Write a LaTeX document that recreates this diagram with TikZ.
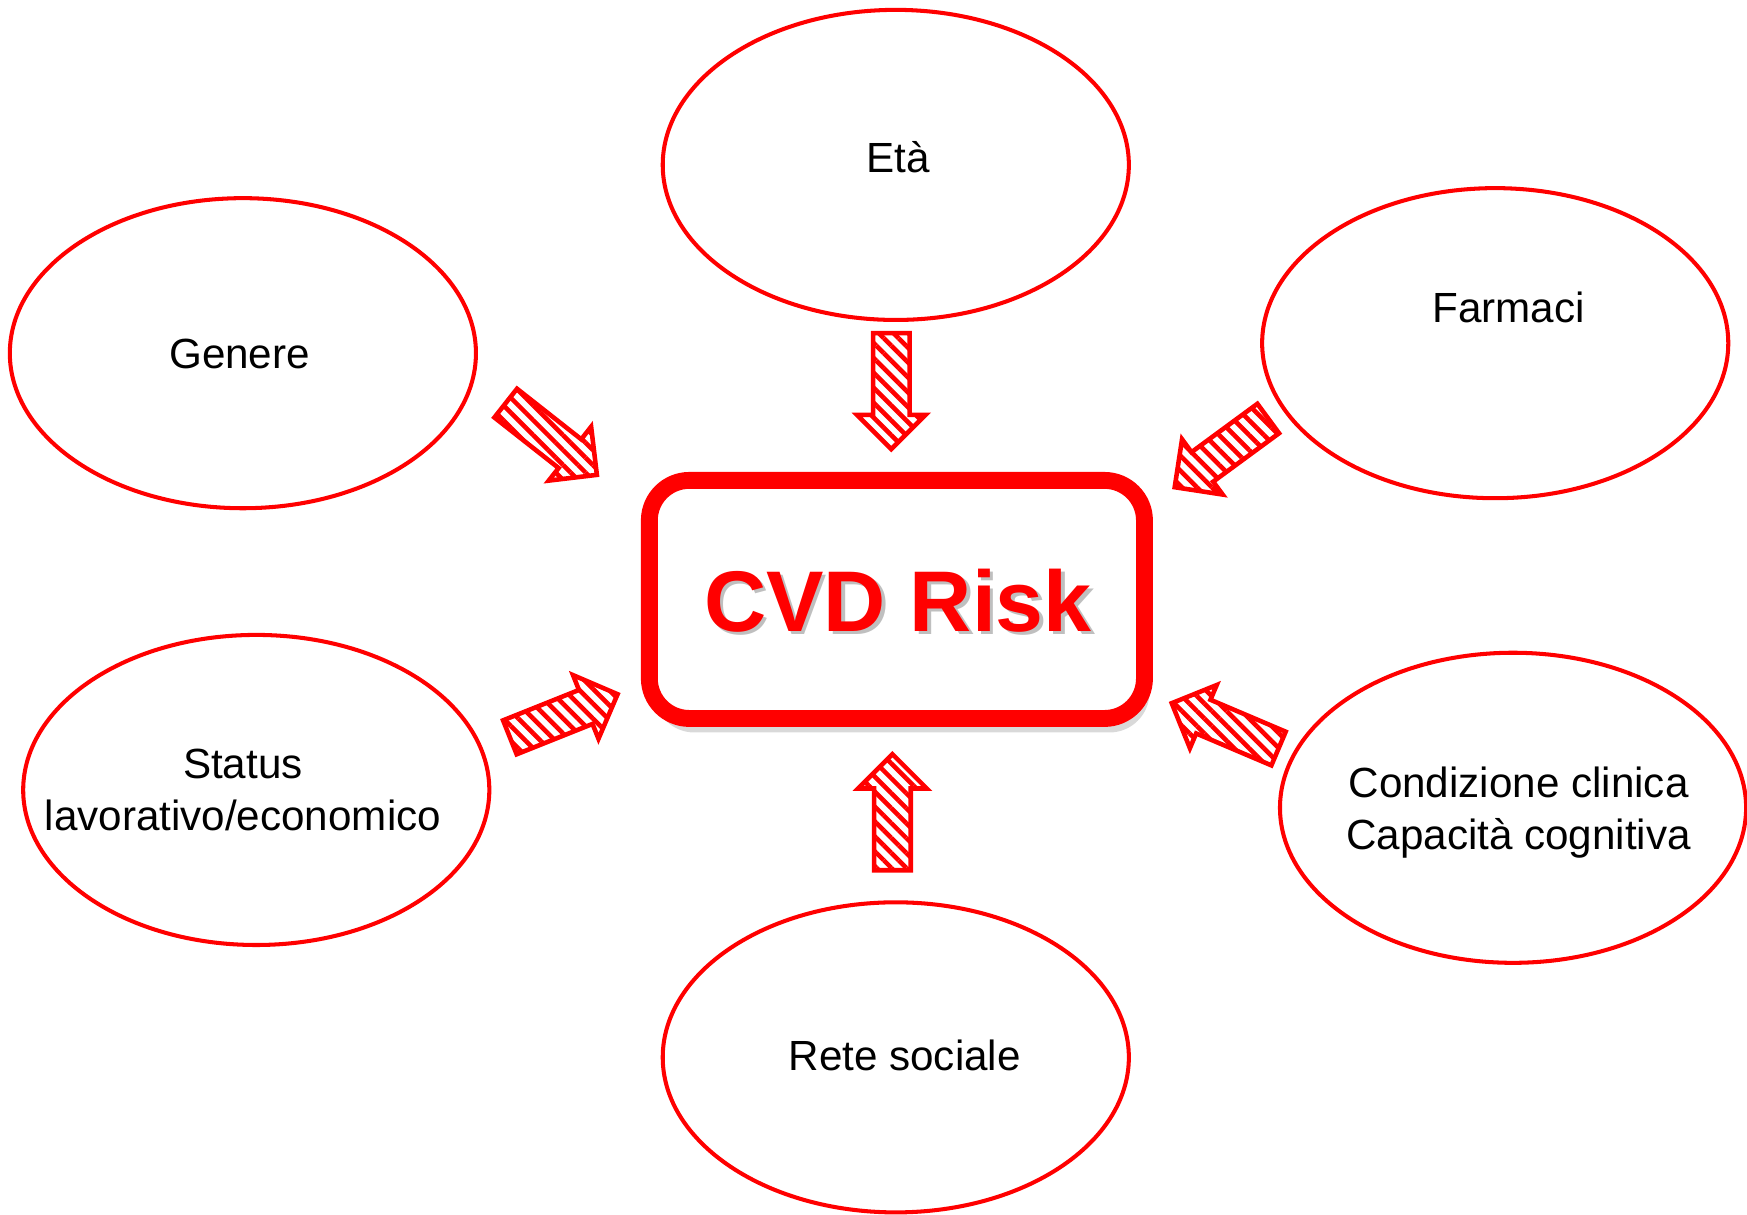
\documentclass[tikz,border=0pt]{standalone}
\usepackage{fontspec}
\setmainfont{Liberation Sans}
\usetikzlibrary{shapes.geometric,shapes.arrows,patterns.meta,shadows}

\tikzset{
  factor/.style={ellipse, draw=red, line width=1.15pt, minimum width=4.66cm, minimum height=3.10cm},
  factortext/.style={align=center, inner sep=0pt, font=\fontsize{12}{14.8}\selectfont},
  riskbox/.style={draw=red, line width=4.8pt, rounded corners=0.4cm, fill=white,
    minimum width=4.95cm, minimum height=2.38cm,
    drop shadow={fill=black, opacity=0.15, shadow xshift=0.5mm, shadow yshift=-1.4mm}},
  risktext/.style={font=\fontsize{24.5}{28}\selectfont\bfseries, inner sep=0pt},
  push/.style={single arrow, draw=red, line width=1.3pt, inner xsep=0pt, inner ysep=0.16cm,
    minimum height=1.16cm, single arrow head extend=0.16cm, anchor=tip,
    pattern={Lines[angle=-45,distance=3pt,line width=1.3pt]}, pattern color=red},
}

\begin{document}
\begin{tikzpicture}[x=0.011142cm, y=-0.011142cm]
    \useasboundingbox (0,0) rectangle (1568,1090);
    % fattori
    \node[factor] (eta) at (804,148) {};
    \node[factor] (genere) at (218,317) {};
    \node[factor] (farmaci) at (1342,308) {};
    \node[factor] (status) at (230,709) {};
    \node[factor] (clinica) at (1358,725) {};
    \node[factor] (rete) at (804,949) {};
    \node[factortext] (tEta) at (806,141) {Età};
    \node[factortext] (tGenere) at (215,318) {Genere};
    \node[factortext] (tFarmaci) at (1354,276) {Farmaci};
    \node[factortext] (tStatus) at (218,709) {Status\\lavorativo/economico};
    \node[factortext] (tClinica) at (1363,729) {Condizione clinica\\Capacità cognitiva};
    \node[factortext] (tRete) at (812,947) {Rete sociale};
    % frecce
    \node[push, rotate=-90] (aEta) at (800,406) {};
    \node[push, rotate=-38.2] (aGenere) at (538,428) {};
    \node[push, rotate=216.3] (aFarmaci) at (1052,439) {};
    \node[push, rotate=21.8] (aStatus) at (557,622) {};
    \node[push, rotate=157] (aClinica) at (1049,630) {};
    \node[push, rotate=90] (aRete) at (801,674) {};
    % CVD Risk
    \node[riskbox] (risk) at (805,538) {};
    \node[risktext, text=black, opacity=0.25] (riskShadow) at (809,542) {CVD Risk};
    \node[risktext, text=red] (riskText) at (806,539) {CVD Risk};
\end{tikzpicture}
\end{document}
